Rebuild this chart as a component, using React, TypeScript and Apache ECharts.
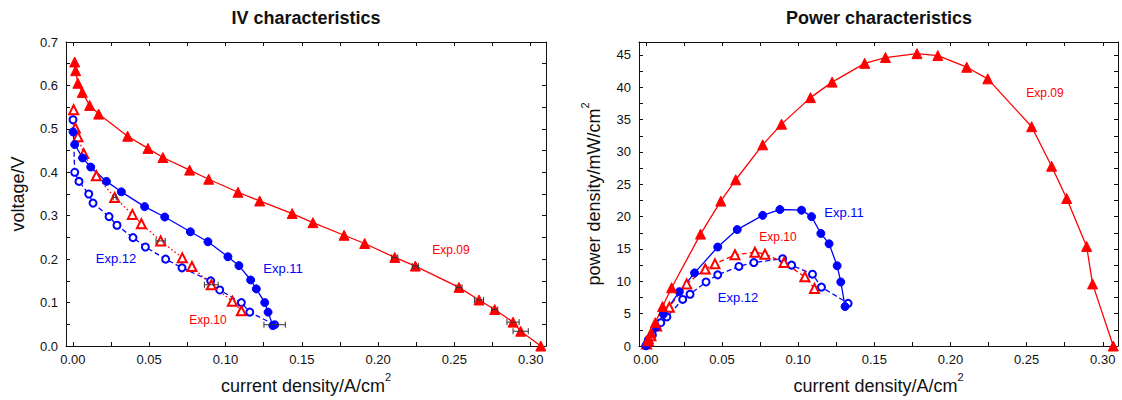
import React, { useEffect, useRef } from "react";
import * as echarts from "echarts";

// ---- current density / voltage (IV) ----
const IV_EXP09 = [
  [0.0012, 0.654], [0.0018, 0.634], [0.0033, 0.605], [0.0062, 0.584], [0.011, 0.554],
  [0.0169, 0.534], [0.0359, 0.483], [0.0492, 0.455], [0.059, 0.434], [0.0765, 0.405],
  [0.089, 0.384], [0.1082, 0.354], [0.1224, 0.334], [0.1437, 0.305], [0.1573, 0.284],
  [0.1777, 0.255], [0.1912, 0.236], [0.2109, 0.204], [0.2244, 0.184], [0.253, 0.135],
  [0.2661, 0.106], [0.2764, 0.084], [0.2884, 0.055], [0.2934, 0.034], [0.3066, 0.0],
];
const IV_EXP10 = [
  [0.0005, 0.544], [0.0016, 0.502], [0.0033, 0.482], [0.0071, 0.443], [0.0154, 0.392],
  [0.0274, 0.342], [0.039, 0.303], [0.0449, 0.2815], [0.0575, 0.242], [0.0717, 0.203],
  [0.078, 0.183], [0.0907, 0.141], [0.1045, 0.103], [0.1104, 0.081],
];
const IV_EXP11 = [
  [0.0001, 0.493], [0.0012, 0.464], [0.0064, 0.433], [0.0117, 0.412], [0.022, 0.379],
  [0.0318, 0.355], [0.047, 0.321], [0.0602, 0.297], [0.077, 0.263], [0.0885, 0.24],
  [0.1016, 0.2055], [0.1088, 0.185], [0.1165, 0.152], [0.1202, 0.1315], [0.1257, 0.1],
  [0.1279, 0.078], [0.131, 0.047],
];
const IV_EXP12 = [
  [0.0001, 0.521], [0.0012, 0.4], [0.004, 0.379], [0.0104, 0.35], [0.0132, 0.329],
  [0.0237, 0.298], [0.0289, 0.278], [0.0394, 0.2495], [0.0475, 0.228], [0.0608, 0.2],
  [0.0715, 0.18], [0.0903, 0.15], [0.0962, 0.129], [0.1104, 0.1], [0.1159, 0.078],
  [0.1322, 0.049],
];

// horizontal error bars: [x, y, half-width]
const IV_ERR09 = [
  [0.2109, 0.204, 0.002], [0.2244, 0.184, 0.002], [0.253, 0.135, 0.002],
  [0.2661, 0.106, 0.003], [0.2764, 0.084, 0.002], [0.2884, 0.055, 0.004],
  [0.2934, 0.034, 0.005],
];
const IV_ERR10 = [[0.0274, 0.342, 0.001], [0.0575, 0.242, 0.003], [0.0907, 0.141, 0.0045]];
const IV_ERR12 = [[0.1322, 0.049, 0.007]];

// ---- current density / power density ----
const P_EXP09 = [
  [0.0012, 0.8], [0.0018, 1.1], [0.0033, 2.0], [0.0062, 3.6], [0.011, 6.1],
  [0.0169, 9.0], [0.0359, 17.3], [0.0492, 22.4], [0.059, 25.7], [0.0767, 31.1],
  [0.0891, 34.3], [0.1081, 38.4], [0.1223, 40.8], [0.1437, 43.7], [0.1573, 44.6],
  [0.178, 45.2], [0.1917, 44.9], [0.2107, 43.1], [0.2245, 41.3], [0.2533, 33.9],
  [0.2664, 27.8], [0.2763, 22.8], [0.2894, 15.4], [0.2933, 9.6], [0.3069, 0.0],
];
const P_EXP10 = [
  [0.0005, 0.3], [0.0016, 0.8], [0.0033, 1.6], [0.0071, 3.1], [0.0154, 6.0],
  [0.0268, 9.6], [0.039, 11.9], [0.0454, 12.7], [0.0585, 14.1], [0.0716, 14.5],
  [0.0782, 14.2], [0.0907, 12.9], [0.1044, 10.7], [0.1107, 8.9],
];
const P_EXP11 = [
  [0.0001, 0.05], [0.0012, 0.56], [0.0067, 2.9], [0.0115, 4.9], [0.022, 8.4],
  [0.032, 11.3], [0.0472, 15.3], [0.06, 18.0], [0.0767, 20.2], [0.088, 21.1],
  [0.1022, 21.0], [0.1088, 20.0], [0.1149, 17.4], [0.1203, 15.8], [0.1256, 12.4],
  [0.128, 9.9], [0.1308, 6.1],
];
const P_EXP12 = [
  [0.0001, 0.05], [0.0017, 1.0], [0.0043, 1.7], [0.0098, 3.6], [0.0138, 4.5],
  [0.0242, 7.2], [0.029, 8.0], [0.0395, 9.9], [0.0472, 11.0], [0.0611, 12.3],
  [0.0709, 12.9], [0.0898, 13.5], [0.0957, 12.5], [0.1094, 11.1], [0.1153, 9.1],
  [0.1328, 6.6],
];

// ---- tick positions ----
const X_LABEL_TICKS = [0, 0.05, 0.1, 0.15, 0.2, 0.25, 0.3];
const X_TICKS = [0, 0.025, 0.05, 0.075, 0.1, 0.125, 0.15, 0.175, 0.2, 0.225, 0.25, 0.275, 0.3];
const V_LABEL_TICKS = [0, 0.1, 0.2, 0.3, 0.4, 0.5, 0.6, 0.7];
const V_TICKS = [0, 0.05, 0.1, 0.15, 0.2, 0.25, 0.3, 0.35, 0.4, 0.45, 0.5, 0.55, 0.6, 0.65, 0.7];
const P_LABEL_TICKS = [0, 5, 10, 15, 20, 25, 30, 35, 40, 45];
const P_TICKS = [0, 2.5, 5, 7.5, 10, 12.5, 15, 17.5, 20, 22.5, 25, 27.5, 30, 32.5, 35, 37.5, 40, 42.5, 45];

const RED = "#ff0000";
const BLUE = "#0000ff";
const INK = "#111111";
const FONT = "'Liberation Sans', Arial, Helvetica, sans-serif";

const X_MIN = -0.0045;
const X_MAX = 0.31;

function boxAxis(position: string, gridIndex: number, min: number, max: number, ticks: number[]) {
  return {
    type: "value",
    position,
    gridIndex,
    min,
    max,
    axisLine: { show: true, onZero: false, lineStyle: { color: INK, width: 1 } },
    axisTick: { show: true, inside: true, length: 4, customValues: ticks, lineStyle: { color: INK } },
    axisLabel: { show: false },
    splitLine: { show: false },
  };
}

function labelledAxis(
  position: string,
  gridIndex: number,
  min: number,
  max: number,
  ticks: number[],
  labels: number[],
  digits: number,
  name: string,
  nameGap: number,
  vertical: boolean
) {
  return {
    ...boxAxis(position, gridIndex, min, max, ticks),
    axisLabel: {
      show: true,
      customValues: labels,
      formatter: (v: number) => v.toFixed(digits),
      color: INK,
      fontSize: 13,
      fontFamily: FONT,
      margin: vertical ? 8 : 7,
    },
    name,
    nameLocation: "middle",
    nameGap,
    nameRotate: vertical ? 90 : 0,
    nameTextStyle: {
      color: INK,
      fontSize: 18,
      fontFamily: FONT,
      rich: {
        n: { fontSize: 18, fontFamily: FONT, color: INK, lineHeight: 24, verticalAlign: "bottom" },
        sup: { fontSize: 11, fontFamily: FONT, color: INK, lineHeight: 11, verticalAlign: "top" },
      },
    },
  };
}

function lineSeries(
  name: string,
  data: number[][],
  axis: number,
  color: string,
  symbol: string,
  size: number,
  type: any
) {
  return {
    name,
    type: "line",
    xAxisIndex: axis,
    yAxisIndex: axis,
    data,
    symbol,
    symbolSize: size,
    showAllSymbol: true,
    itemStyle: { color, borderColor: color, borderWidth: 1 },
    lineStyle: { color, width: 1.3, type },
    emphasis: { disabled: true },
    z: 3,
  };
}

function errorSeries(data: number[][], axis: number) {
  return {
    type: "custom",
    xAxisIndex: axis,
    yAxisIndex: axis,
    data,
    silent: true,
    z: 4,
    encode: { x: 0, y: 1 },
    renderItem: (_params: any, api: any) => {
      const x = api.value(0);
      const y = api.value(1);
      const e = api.value(2);
      const a = api.coord([x - e, y]);
      const b = api.coord([x + e, y]);
      const h = 3;
      const style = { stroke: "#333333", lineWidth: 1 };
      return {
        type: "group",
        children: [
          { type: "line", shape: { x1: a[0], y1: a[1], x2: b[0], y2: b[1] }, style },
          { type: "line", shape: { x1: a[0], y1: a[1] - h, x2: a[0], y2: a[1] + h }, style },
          { type: "line", shape: { x1: b[0], y1: b[1] - h, x2: b[0], y2: b[1] + h }, style },
        ],
      };
    },
  };
}

function note(text: string, x: number, y: number, color: string, size: number, bold = false) {
  return {
    type: "text",
    x,
    y,
    silent: true,
    z: 10,
    style: {
      text,
      fill: color,
      fontSize: size,
      fontFamily: FONT,
      fontWeight: bold ? "bold" : "normal",
      align: "center",
      verticalAlign: "middle",
    },
  };
}

export default function App() {
  const ref = useRef<HTMLDivElement>(null);

  useEffect(() => {
    if (!ref.current) return;
    const chart = echarts.init(ref.current, undefined, { renderer: "svg" });
    const xName = "{n|current density/A/cm}{sup|2}";

    chart.setOption({
      animation: false,
      backgroundColor: "#ffffff",
      grid: [
        { left: 66, top: 42, width: 480, height: 307 },
        { left: 639, top: 42, width: 479, height: 307 },
      ],
      xAxis: [
        labelledAxis("bottom", 0, X_MIN, X_MAX, X_TICKS, X_LABEL_TICKS, 2, xName, 25, false),
        boxAxis("top", 0, X_MIN, X_MAX, X_TICKS),
        labelledAxis("bottom", 1, X_MIN, X_MAX, X_TICKS, X_LABEL_TICKS, 2, xName, 25, false),
        boxAxis("top", 1, X_MIN, X_MAX, X_TICKS),
      ],
      yAxis: [
        labelledAxis("left", 0, 0, 0.7, V_TICKS, V_LABEL_TICKS, 1, "{n|voltage/V}", 39, true),
        boxAxis("right", 0, 0, 0.7, V_TICKS),
        labelledAxis("left", 1, 0, 47, P_TICKS, P_LABEL_TICKS, 0, "{n|power density/mW/cm}{sup|2}", 36, true),
        boxAxis("right", 1, 0, 47, P_TICKS),
      ],
      series: [
        lineSeries("Exp.12", IV_EXP12, 0, BLUE, "emptyCircle", 7, [5, 3]),
        lineSeries("Exp.10", IV_EXP10, 0, RED, "emptyTriangle", 9, [1.5, 2.5]),
        lineSeries("Exp.11", IV_EXP11, 0, BLUE, "circle", 8, "solid"),
        lineSeries("Exp.09", IV_EXP09, 0, RED, "triangle", 10, "solid"),
        errorSeries(IV_ERR09, 0),
        errorSeries(IV_ERR10, 0),
        errorSeries(IV_ERR12, 0),
        lineSeries("Exp.12", P_EXP12, 2, BLUE, "emptyCircle", 7, [5, 3]),
        lineSeries("Exp.10", P_EXP10, 2, RED, "emptyTriangle", 9, [5, 3]),
        lineSeries("Exp.11", P_EXP11, 2, BLUE, "circle", 8, "solid"),
        lineSeries("Exp.09", P_EXP09, 2, RED, "triangle", 10, "solid"),
      ],
      graphic: [
        note("IV characteristics", 306, 18, INK, 18, true),
        note("Power characteristics", 879, 18, INK, 18, true),
        note("Exp.09", 451, 250, RED, 12),
        note("Exp.11", 283, 268, BLUE, 13),
        note("Exp.12", 116, 258, BLUE, 13),
        note("Exp.10", 208, 320, RED, 12),
        note("Exp.09", 1045, 93, RED, 12),
        note("Exp.11", 844, 212, BLUE, 13),
        note("Exp.10", 778, 237, RED, 12),
        note("Exp.12", 738, 297, BLUE, 13),
      ],
    });

    return () => chart.dispose();
  }, []);

  return (
    <div
      ref={ref}
      style={{ position: "absolute", left: 0, top: 0, width: 1122, height: 400, background: "#fff" }}
    />
  );
}
